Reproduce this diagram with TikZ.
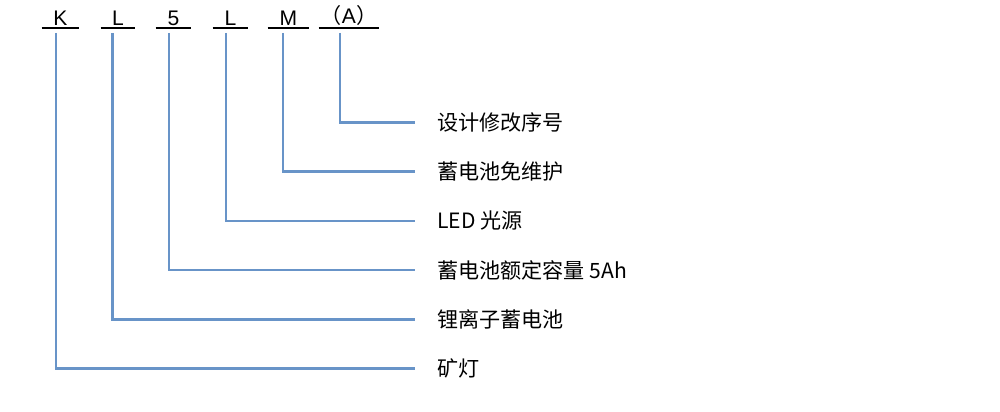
\documentclass[tikz,border=0pt]{standalone}
\usepackage{fontspec}
\setmainfont{Liberation Sans}
\newfontfamily\cjk{Noto Sans CJK SC}
\usetikzlibrary{positioning}
\definecolor{linkblue}{RGB}{104,148,200}
\tikzset{
  code/.style={inner sep=1pt, anchor=south, font=\fontsize{12}{14}\selectfont},
  desc/.style={anchor=west, inner xsep=0.44cm, inner ysep=0pt, font=\cjk\fontsize{12}{14}\selectfont},
  link/.style={draw=linkblue, line width=1.5pt},
  under/.style={draw=black, line width=0.6pt}
}

\begin{document}
\begin{tikzpicture}[x=0.02cm, y=-0.02cm]
      \useasboundingbox (0,0) rectangle (1000,412);

      % model code
      \node[code, minimum width=37*0.02cm] (k)  at (60.5,28) {K};
      \node[code, minimum width=34*0.02cm] (l1) at (118,28)  {L};
      \node[code, minimum width=35*0.02cm] (n5) at (173.5,28) {5};
      \node[code, minimum width=35*0.02cm] (l2) at (230.5,28) {L};
      \node[code, minimum width=41*0.02cm] (m)  at (288.5,28) {M};
      \node[code, minimum width=60*0.02cm] (a)  at (349,28)  {{\cjk （}A{\cjk ）}};

      \foreach \c in {k, l1, n5, l2, m, a}
        \draw[under] (\c.south west) -- (\c.south east);

      % meanings
      \node[desc] (rev)    at (415,122.7) {设计修改序号};
      \node[desc] (free)   at (415,171.7) {蓄电池免维护};
      \node[desc] (led)    at (415,220.9) {LED 光源};
      \node[desc] (cap)    at (415,270)   {蓄电池额定容量 5Ah};
      \node[desc] (li)     at (415,319.2) {锂离子蓄电池};
      \node[desc] (lamp)   at (415,368.5) {矿灯};

      \coordinate (k-top)  at (56,33);
      \coordinate (l1-top) at (112.7,33);
      \coordinate (n5-top) at (169,33);
      \coordinate (l2-top) at (226,33);
      \coordinate (m-top)  at (283,33);
      \coordinate (a-top)  at (340,33);

      \draw[link] (a-top)  |- (rev.west);
      \draw[link] (m-top)  |- (free.west);
      \draw[link] (l2-top) |- (led.west);
      \draw[link] (n5-top) |- (cap.west);
      \draw[link] (l1-top) |- (li.west);
      \draw[link] (k-top)  |- (lamp.west);

    \end{tikzpicture}
\end{document}
